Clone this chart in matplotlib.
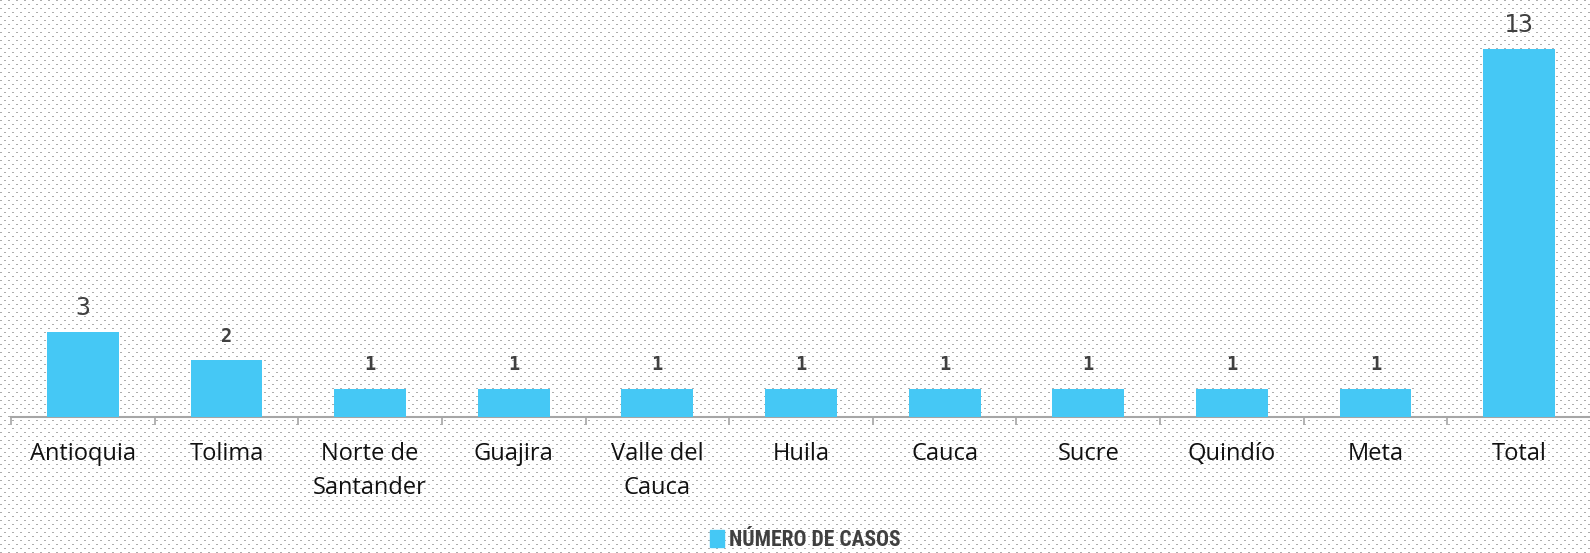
import matplotlib
matplotlib.use("Agg")
import matplotlib.pyplot as plt
import numpy as np
from matplotlib.patches import Patch

# data
categories = ["Antioquia", "Tolima", "Norte de\nSantander", "Guajira", "Valle del\nCauca",
              "Huila", "Cauca", "Sucre", "Quindío", "Meta", "Total"]
casos = [3, 2, 1, 1, 1, 1, 1, 1, 1, 1, 13]
series_name = "NÚMERO DE CASOS"

BAR = "#45C8F5"
TXT = "#404040"
AXIS = "#a6a6a6"

W, H = 1590, 553
fig = plt.figure(figsize=(W / 100, H / 100), dpi=100)
fig.patch.set_alpha(0)

# dotted background
bg = np.ones((H, W, 3))
yy, xx = np.mgrid[0:H, 0:W]
dots = ((yy % 4) < 1) & (((xx + 4 * ((yy // 4) % 2)) % 8) < 2)
bg[dots] = 0.68
fig.figimage(bg, xo=0, yo=0, zorder=-10)

ax = fig.add_axes([11 / W, (H - 417) / H, 1580 / W, 417 / H])
ax.patch.set_alpha(0)
x = np.arange(len(categories))
ax.bar(x, casos, width=0.5, color=BAR, zorder=3)
ax.set_xlim(-0.5, len(categories) - 0.5)
ax.set_ylim(0, 417 / 28.3)

for s in ["top", "right", "left"]:
    ax.spines[s].set_visible(False)
ax.spines["bottom"].set_color(AXIS)
ax.spines["bottom"].set_linewidth(1.5)
ax.set_yticks([])
ax.set_xticks(x)
ax.set_xticklabels(categories, fontsize=17, family="Open Sans", color="#111111")
for lbl in ax.get_xticklabels():
    lbl.set_linespacing(1.56)
ax.tick_params(axis="x", which="major", length=0, pad=18)
ax.set_xticks(np.arange(-0.5, len(categories)), minor=True)
ax.tick_params(axis="x", which="minor", length=6, width=1.2, color=AXIS, direction="out")

for xi, v in zip(x, casos):
    big = v in (3, 13)
    ax.annotate(str(v), (xi, v), xytext=(0, 17.5), textcoords="offset points",
                ha="center", va="center", color=TXT,
                family="DejaVu Sans Mono",
                fontsize=18 if big else 13.5,
                fontweight="normal" if big else "bold",
                annotation_clip=False)

fig.legend(handles=[Patch(color=BAR, label=series_name)], loc="center",
           bbox_to_anchor=(0.5 + 10 / W, 1 - 540 / H), frameon=False,
           handlelength=0.65, handleheight=0.8, handletextpad=0.25,
           prop={"family": ["Roboto Condensed", "DejaVu Sans"],
                 "weight": "bold", "stretch": "condensed", "size": 15.5},
           labelcolor=TXT)

fig.savefig("out.png", dpi=100)
